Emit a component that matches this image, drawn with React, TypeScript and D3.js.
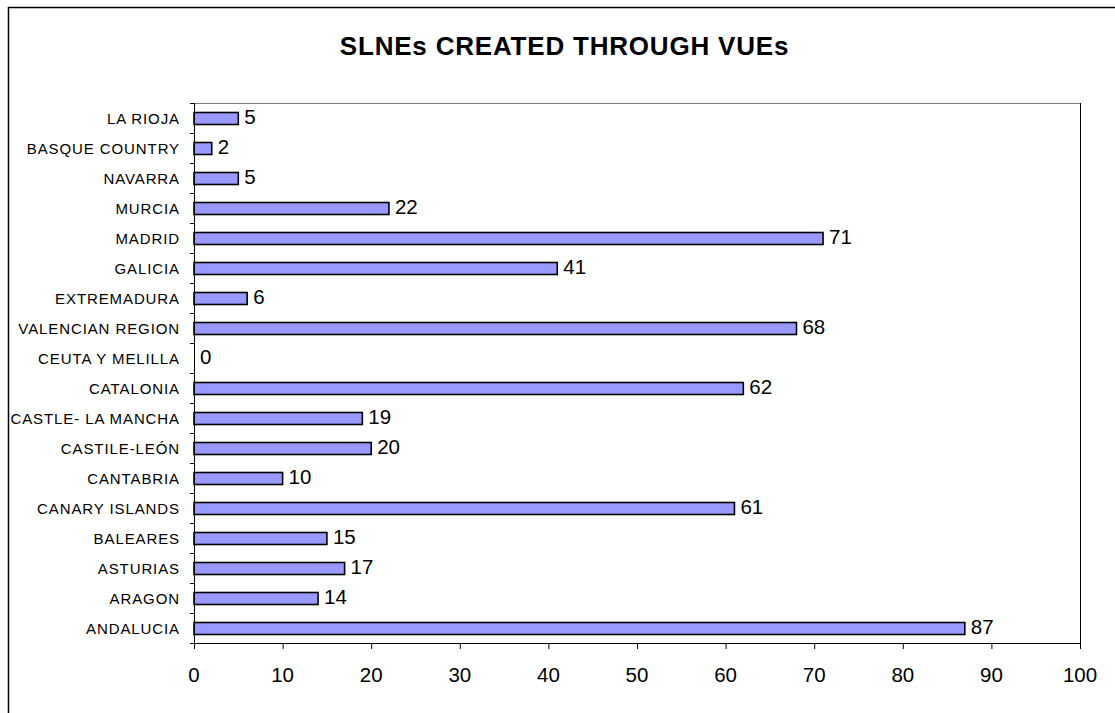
import React from "react";
import * as d3 from "d3";

// Regions listed from top to bottom of the chart
const regions: string[] = [
  "LA RIOJA",
  "BASQUE COUNTRY",
  "NAVARRA",
  "MURCIA",
  "MADRID",
  "GALICIA",
  "EXTREMADURA",
  "VALENCIAN REGION",
  "CEUTA Y MELILLA",
  "CATALONIA",
  "CASTLE- LA MANCHA",
  "CASTILE-LEÓN",
  "CANTABRIA",
  "CANARY ISLANDS",
  "BALEARES",
  "ASTURIAS",
  "ARAGON",
  "ANDALUCIA",
];

const companies: number[] = [5, 2, 5, 22, 71, 41, 6, 68, 0, 62, 19, 20, 10, 61, 15, 17, 14, 87];

const xTicks: number[] = [0, 10, 20, 30, 40, 50, 60, 70, 80, 90, 100];

const title = "SLNEs CREATED THROUGH VUEs";

const W = 1115;
const H = 713;
const plot = { left: 194, top: 103, right: 1080, bottom: 643 };
const font = "Arial, 'Liberation Sans', sans-serif";

export default function App() {
  const x = d3.scaleLinear().domain([0, 100]).range([plot.left, plot.right]);
  const y = d3
    .scaleBand<string>()
    .domain(regions)
    .range([plot.top, plot.bottom])
    .paddingInner(0.6)
    .paddingOuter(0.3);
  const step = y.step();
  const boundaries = d3.range(regions.length + 1).map((i) => plot.top + i * step);

  return (
    <svg
      width={W}
      height={H}
      style={{ position: "absolute", left: 0, top: 0, background: "#fff" }}
      fontFamily={font}
    >
      <rect x={0} y={0} width={W} height={H} fill="#fff" />
      {/* chart frame */}
      <rect x={8.5} y={7.5} width={W + 20} height={H + 20} fill="none" stroke="#000" strokeWidth={1.5} />

      <text
        x={564.5}
        y={55}
        textAnchor="middle"
        fontSize={26}
        fontWeight="bold"
        letterSpacing={0.8}
        fill="#000"
      >
        {title}
      </text>

      {/* plot area border */}
      <line x1={plot.left} x2={plot.right} y1={plot.top + 0.5} y2={plot.top + 0.5} stroke="#808080" strokeWidth={1} />
      <line x1={plot.right + 0.5} x2={plot.right + 0.5} y1={plot.top} y2={plot.bottom} stroke="#000" strokeWidth={1} />

      {/* bars */}
      {regions.map((r, i) => (
        <rect
          key={r}
          x={x(0)}
          y={(y(r) as number) + 0.5}
          width={x(companies[i]) - x(0)}
          height={y.bandwidth()}
          fill="#9999FF"
          stroke="#000"
          strokeWidth={1.6}
          style={{ display: companies[i] === 0 ? "none" : undefined }}
        />
      ))}

      {/* value labels */}
      {regions.map((r, i) => (
        <text
          key={r + "-v"}
          x={x(companies[i]) + 6}
          y={(y(r) as number) + y.bandwidth() / 2 + 5.5}
          fontSize={20.5}
          fill="#000"
        >
          {companies[i]}
        </text>
      ))}

      {/* category axis */}
      <line x1={plot.left + 0.5} x2={plot.left + 0.5} y1={plot.top} y2={plot.bottom} stroke="#000" strokeWidth={1} />
      {boundaries.map((b, i) => (
        <line key={"yt" + i} x1={plot.left - 4} x2={plot.left} y1={b + 0.5} y2={b + 0.5} stroke="#000" strokeWidth={1} />
      ))}
      {regions.map((r) => (
        <text
          key={r + "-l"}
          x={180}
          y={(y(r) as number) + y.bandwidth() / 2 + 5.5}
          textAnchor="end"
          fontSize={15}
          letterSpacing={0.9}
          fill="#000"
        >
          {r}
        </text>
      ))}

      {/* value axis */}
      <line x1={plot.left} x2={plot.right + 1} y1={plot.bottom + 0.5} y2={plot.bottom + 0.5} stroke="#000" strokeWidth={1} />
      {xTicks.map((t) => (
        <g key={"xt" + t}>
          <line x1={x(t) + 0.5} x2={x(t) + 0.5} y1={plot.bottom} y2={plot.bottom + 6} stroke="#000" strokeWidth={1} />
          <text x={x(t)} y={681.5} textAnchor="middle" fontSize={20.5} fill="#000">
            {t}
          </text>
        </g>
      ))}
    </svg>
  );
}
